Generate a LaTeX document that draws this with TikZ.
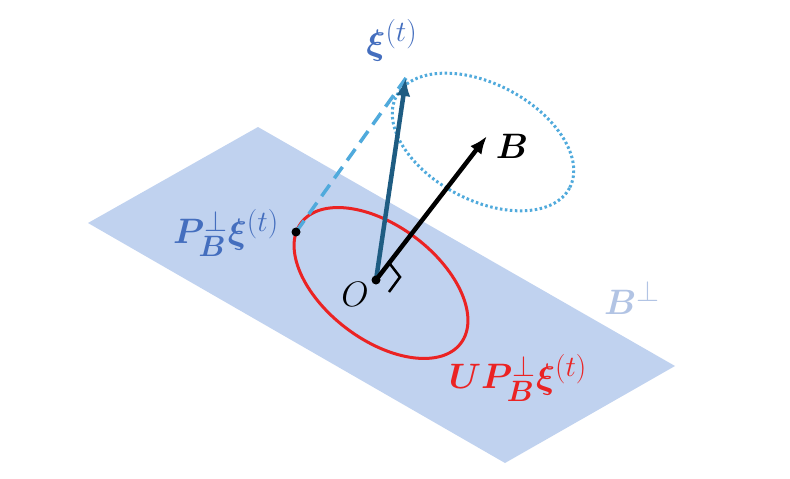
\documentclass[tikz,border=0pt]{standalone}
\usepackage{amsmath,amssymb,bm}
\usepackage{xcolor}
\usetikzlibrary{arrows.meta}
\definecolor{planeblue}{RGB}{192,210,239}
\definecolor{labelblue}{RGB}{68,110,190}
\definecolor{arrowblue}{RGB}{30,92,130}
\definecolor{dashblue}{RGB}{80,170,220}
\definecolor{perpblue}{RGB}{178,196,228}
\definecolor{myred}{RGB}{235,35,35}
\tikzstyle{arrow} = [line width=4.5pt,-{Latex[length=18pt,width=14pt]}]
\tikzstyle{lbl} = [font=\Huge, scale=1.42]

\begin{document}
\begin{tikzpicture}[x=1pt,y=-1pt]
            \useasboundingbox (0,0) rectangle (790,479);
            % plane
            \fill[planeblue] (88,223) -- (258,127) -- (675,366) -- (505,463) -- cycle;
            % points
            \coordinate (O) at (376,280);
            \coordinate (P) at (296,232);
            \coordinate (Xi) at (406,78);
            \coordinate (Bt) at (487,136);
            % ellipses
            \draw[dashblue, line width=3pt, dash pattern=on 2.5pt off 2.5pt] (483,142) ellipse[x radius=98, y radius=58, rotate=-28];
            \draw[myred, line width=3pt] (381,283) ellipse[x radius=100, y radius=57, rotate=-37];
            % connectors
            \draw[dashblue, line width=3.5pt, dash pattern=on 14pt off 8pt] (P) -- (Xi);
            \draw[arrow, arrowblue] (O) -- (Xi);
            \draw[arrow, black] (O) -- (Bt);
            \draw[line width=2.5pt] (390,264) -- (400,277) -- (389,292);
            \fill (O) circle (4.5);
            \fill (P) circle (4.5);
            % labels
            \node[lbl, labelblue] (xi) at (392,40) {$\bm{\xi}^{(t)}$};
            \node[lbl, black] (b) at (512,146) {$\bm{B}$};
            \node[lbl, labelblue] (pxi) at (226,233) {$\bm{P}_{\bm{B}}^{\perp}\bm{\xi}^{(t)}$};
            \node[lbl, black] (o) at (355,294) {$O$};
            \node[lbl, perpblue] (bp) at (632,298) {$\bm{B}^{\perp}$};
            \node[lbl, myred] (up) at (518,378) {$\bm{U}\bm{P}_{\bm{B}}^{\perp}\bm{\xi}^{(t)}$};
\end{tikzpicture}
\end{document}
